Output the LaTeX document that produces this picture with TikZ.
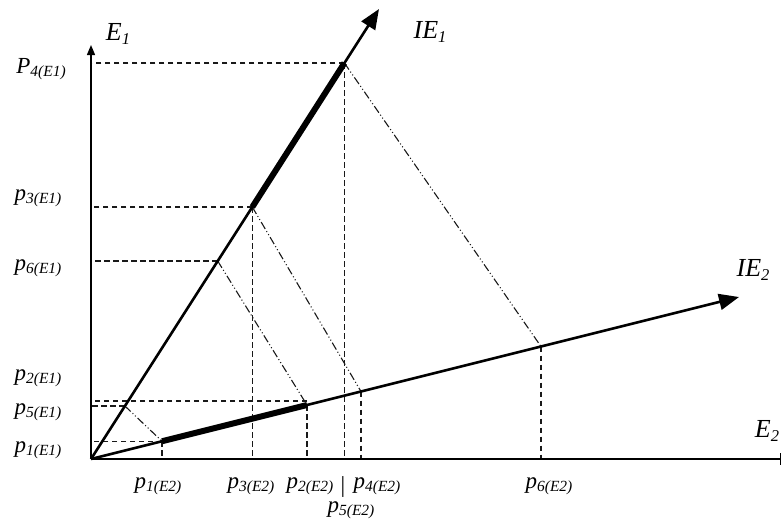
\documentclass[tikz,border=0pt]{standalone}
\usepackage{fontspec}
\setmainfont{Liberation Serif}
\usetikzlibrary{arrows.meta}
\tikzstyle{axis} = [line width=1.4pt]
\tikzstyle{ray} = [line width=2.6pt, -{Triangle[length=20pt,width=16pt]}]
\tikzstyle{seg} = [line width=6pt]
\tikzstyle{proj} = [line width=1.1pt, black!90, dash pattern=on 5.5pt off 3.5pt]
\tikzstyle{link} = [line width=1.1pt, black!90, dash pattern=on 8pt off 2.5pt on 1pt off 2.5pt on 1pt off 2.5pt]
\tikzstyle{lab} = [inner sep=0pt, font=\fontsize{23}{27}\selectfont]
\tikzstyle{axlab} = [inner sep=0pt, font=\fontsize{26}{30}\selectfont]
\newcommand{\plab}[2]{\textit{#1}\raisebox{-3pt}{\fontsize{15.5}{15.5}\selectfont\textit{#2}}}
\newcommand{\alab}[2]{\textit{#1}\raisebox{-4pt}{\fontsize{16.5}{16.5}\selectfont\textit{#2}}}

\begin{document}
\begin{tikzpicture}[x=1pt, y=-1pt]
\useasboundingbox (0,0) rectangle (782,523);

% Axes ends
\coordinate (O) at (91,459);
\coordinate (e1end) at (91,45);
\coordinate (e2end) at (781,459);
\coordinate (ie1end) at (379,9);
\coordinate (ie2end) at (739,297);

% Points on IE1
\coordinate (a4) at (344.4,63);
\coordinate (a3) at (252.3,207);
\coordinate (a6) at (217.7,261);
\coordinate (a5) at (124.9,406);

% Points on IE2
\coordinate (b1) at (162,441.25);
\coordinate (b2) at (307,405);
\coordinate (b2top) at (307,401);
\coordinate (b4) at (361,391.5);
\coordinate (b6) at (541,346.5);

% Projections
\draw [proj] (a4) -- (a4 -| O);
\draw [proj] (a3) -- (a3 -| O);
\draw [proj] (a6) -- (a6 -| O);
\draw [proj] (a5) -- (a5 -| O);
\draw [proj] (b2top) -- (b2top -| O);
\draw [proj] (b1) -- (b1 -| O);
\draw [proj] (a4) -- (a4 |- O);
\draw [proj] (a3) -- (a3 |- O);
\draw [proj] (b1) -- (b1 |- O);
\draw [proj] (b2) -- (b2 |- O);
\draw [proj] (b4) -- (b4 |- O);
\draw [proj] (b6) -- (b6 |- O);

% Links between the rays
\draw [link] (a4) -- (b6);
\draw [link] (a3) -- (b4);
\draw [link] (a6) -- (b2);
\draw [link] (a5) -- (b1);

% Axes and rays
\draw [axis, -{Triangle[length=10pt,width=8pt]}] (O) -- (e1end);
\draw [axis, -{Bar[width=12pt]}] (O) -- (e2end);
\draw [ray] (O) -- (ie1end);
\draw [ray] (O) -- (ie2end);
\draw [seg] (a3) -- (a4);
\draw [seg] (b1) -- (b2);

% Labels
\node [axlab] (E1lab) at (118,34) {\alab{E}{1}};
\node [axlab] (E2lab) at (767,431) {\alab{E}{2}};
\node [axlab] (IE1lab) at (430,32) {\alab{IE}{1}};
\node [axlab] (IE2lab) at (753,270) {\alab{IE}{2}};

\node [lab] (p4E1) at (41,69) {\plab{P}{4(E1)}};
\node [lab] (p3E1) at (38,198) {\plab{p}{3(E1)}};
\node [lab] (p6E1) at (38,268) {\plab{p}{6(E1)}};
\node [lab] (p2E1) at (38,378) {\plab{p}{2(E1)}};
\node [lab] (p5E1) at (38,412) {\plab{p}{5(E1)}};
\node [lab] (p1E1) at (38,450) {\plab{p}{1(E1)}};

\node [lab] (p1E2) at (158,486) {\plab{p}{1(E2)}};
\node [lab] (p3E2) at (251,486) {\plab{p}{3(E2)}};
\node [lab] (p2E2) at (310,486) {\plab{p}{2(E2)}};
\node [lab] (bar) at (343,487) {|};
\node [lab] (p4E2) at (377,486) {\plab{p}{4(E2)}};
\node [lab] (p5E2) at (351,510) {\plab{p}{5(E2)}};
\node [lab] (p6E2) at (549,486) {\plab{p}{6(E2)}};

\end{tikzpicture}
\end{document}
